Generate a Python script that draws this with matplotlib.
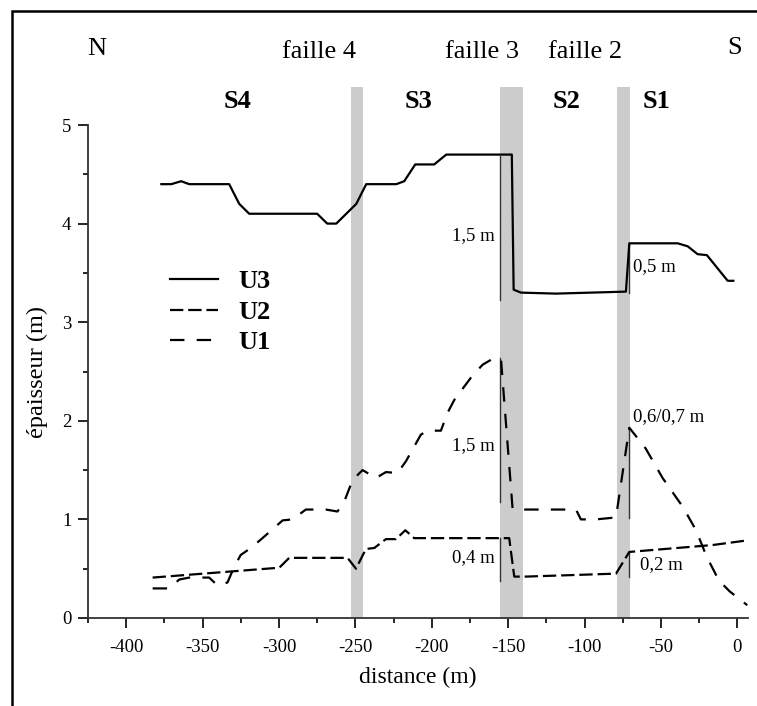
import matplotlib
matplotlib.use("Agg")
import matplotlib.pyplot as plt
from matplotlib.patches import Rectangle
from matplotlib.ticker import MultipleLocator

plt.rcParams['font.family'] = ['Liberation Serif', 'DejaVu Serif']
plt.rcParams['axes.unicode_minus'] = False

# U3 (solid)
u3_x = [-377, -370.5, -364, -358.8, -332.6, -326, -319.5, -275, -268.4, -262.5, -255.3, -249.4, -242.9,
        -223.2, -218, -210.8, -198.4, -190.5, -147.6, -146.4, -141.6, -118.7, -72.9, -70.7, -39, -32.5,
        -26, -19.9, -6.3, -2.6]
u3_y = [4.4, 4.4, 4.43, 4.4, 4.4, 4.2, 4.1, 4.1, 4.0, 4.0, 4.11, 4.2, 4.4,
        4.4, 4.43, 4.6, 4.6, 4.7, 4.7, 3.33, 3.30, 3.29, 3.31, 3.8, 3.8, 3.77,
        3.69, 3.68, 3.42, 3.42]

# U2 (short dashes)
u2_x = [-382.7, -299.8, -293.3, -255.1, -249.6, -243.1, -237.6, -230, -223.4, -217.3, -211.5,
        -149.3, -146, -138.3, -79.4, -70.7, -16.2, 7.9]
u2_y = [0.41, 0.51, 0.61, 0.61, 0.50, 0.70, 0.71, 0.80, 0.80, 0.89, 0.81,
        0.81, 0.42, 0.42, 0.45, 0.67, 0.74, 0.79]

# U1 (long dashes)
u1_x = [-382.7, -371.8, -365.3, -358.8, -345.7, -340.2, -333.7, -329.3, -325, -318.4, -310.8, -297.6,
        -291.1, -282.4, -269.3, -261.7, -257.3, -251.8, -245.3, -236.5, -230, -222.4, -216.9, -207.1,
        -202.7, -194, -189.7, -185.3, -173.3, -166.6, -161.1, -154.7, -147.1, -139.4, -105.6, -102.4,
        -92.5, -79.4, -70.7, -60, -48.9, -35.8, -27, -20, -12, -5, 6.5]
u1_y = [0.30, 0.30, 0.39, 0.41, 0.41, 0.33, 0.36, 0.52, 0.64, 0.71, 0.81, 0.99,
        1.0, 1.1, 1.1, 1.08, 1.18, 1.4, 1.5, 1.42, 1.48, 1.47, 1.59, 1.86,
        1.9, 1.9, 2.08, 2.21, 2.46, 2.57, 2.62, 2.63, 1.11, 1.10, 1.10, 1.0,
        1.0, 1.02, 1.93, 1.72, 1.42, 1.13, 0.89, 0.62, 0.38, 0.27, 0.13]

# faults (x range of gray bands)
faults = [(-253, -245), (-155, -140), (-79, -70)]
fault_names = ["faille 4", "faille 3", "faille 2"]
fault_label_x = [-274, -167, -99.5]
sector_names = ["S4", "S3", "S2", "S1"]
sector_x = [-327.3, -208.6, -112, -53]

# throw marks
throw_x = [-155, -155, -155, -70.7, -70.7, -70.7]
throw_top = [4.69, 2.64, 0.81, 3.8, 1.93, 0.67]
throw_bot = [3.23, 1.18, 0.375, 3.3, 1.01, 0.42]
throw_lab = ["1,5 m", "1,5 m", "0,4 m", "0,5 m", "0,6/0,7 m", "0,2 m"]
throw_lab_x = [-159, -159, -159, -68, -68, -64]
throw_lab_y = [3.88, 1.75, 0.61, 3.56, 2.04, 0.54]

fig = plt.figure(figsize=(7.57, 7.06), dpi=100)
ax = fig.add_axes([88 / 757, 88 / 706, 660 / 757, 493 / 706])

for (a, b) in faults:
    ax.fill_between([a, b], 0, 5.39, color='#cccccc', lw=0, clip_on=False, zorder=1)

ax.plot(u3_x, u3_y, color='black', lw=1.6, label='U3', zorder=3)
ax.plot(u2_x, u2_y, color='black', lw=1.6, dashes=(6, 2.2), label='U2', zorder=3)
ax.plot(u1_x, u1_y, color='black', lw=1.6, dashes=(6.5, 5.5), label='U1', zorder=3)

for x, t, b in zip(throw_x, throw_top, throw_bot):
    ax.plot([x, x], [b, t], color='#333333', lw=1.0, zorder=2)
for lab, x, y in zip(throw_lab, throw_lab_x, throw_lab_y):
    ax.text(x, y, lab, ha='right' if x < -100 else 'left', va='center', fontsize=13.5)

ax.text(-419.2, 5.77, "N", ha='center', va='center', fontsize=19)
ax.text(-2.0, 5.78, "S", ha='center', va='center', fontsize=19)
for name, x in zip(fault_names, fault_label_x):
    ax.text(x, 5.74, name, ha='center', va='center', fontsize=19)
for name, x in zip(sector_names, sector_x):
    ax.text(x, 5.24, name, ha='center', va='center', fontsize=19, fontweight='bold')

ax.set_xlim(-425, 7)
ax.set_ylim(0, 5)
ax.xaxis.set_major_locator(MultipleLocator(50))
ax.xaxis.set_minor_locator(MultipleLocator(25))
ax.yaxis.set_major_locator(MultipleLocator(1))
ax.yaxis.set_minor_locator(MultipleLocator(0.5))
ax.tick_params(which='major', length=7, width=1.2, labelsize=13.5, direction='out')
ax.tick_params(which='minor', length=3.5, width=1.2, direction='out')
ax.tick_params(axis='x', which='major', pad=8)
ax.tick_params(axis='y', which='major', pad=5)
for s in ['top', 'right']:
    ax.spines[s].set_visible(False)
for s in ['left', 'bottom']:
    ax.spines[s].set_color('#333333')
    ax.spines[s].set_linewidth(1.3)

ax.set_xlabel("distance (m)", fontsize=17, labelpad=8)
ax.set_ylabel("épaisseur (m)", fontsize=17.5, labelpad=10)

leg = ax.legend(loc='upper left', bbox_to_anchor=(0.124, 0.706), frameon=False,
                prop={'size': 19, 'weight': 'bold'}, handlelength=1.82, handletextpad=0.76,
                labelspacing=0.26, borderpad=0, borderaxespad=0)

fig.add_artist(Rectangle((12 / 757, -1), 2, 1 + 1 - 11 / 706, transform=fig.transFigure,
                         fill=False, lw=1.8, edgecolor='black'))

fig.savefig("out.png", dpi=100)
